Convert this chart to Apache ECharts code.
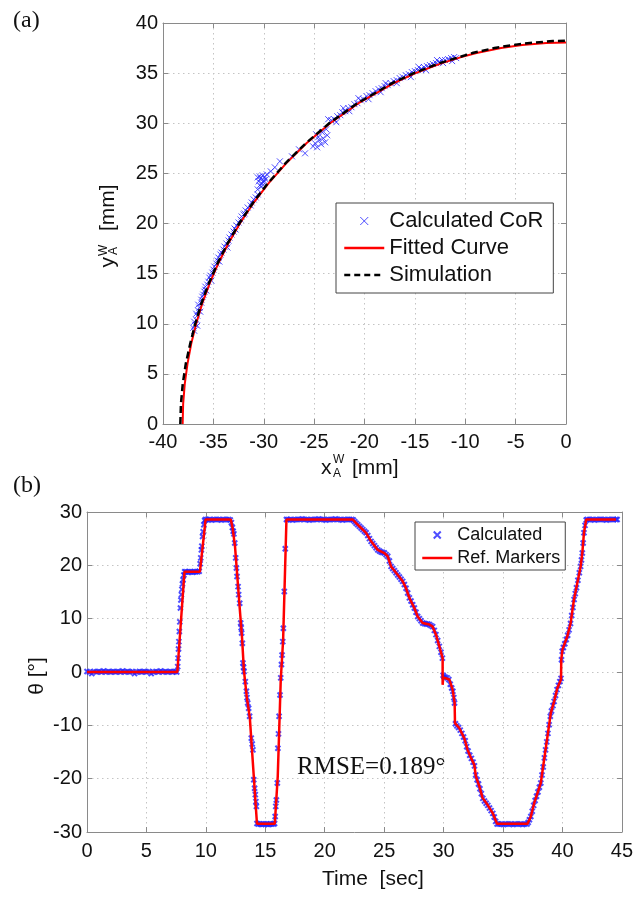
<!DOCTYPE html>
<html>
<head>
<meta charset="utf-8">
<script src="https://cdn.jsdelivr.net/npm/echarts@6/dist/echarts.min.js"></script>
<style>
  html, body { margin: 0; padding: 0; background: #fff; }
  #main { width: 636px; height: 899px; }
</style>
</head>
<body>
<div id="main"></div>
<script>
// (a) centre of rotation, [x, y] in mm
const calculatedCoR = [
    [-36.9, 9.3], [-37.0, 9.6], [-36.8, 9.9], [-36.9, 10.2], [-36.7, 10.4], [-36.6, 10.8], [-36.7, 11.0],
    [-36.5, 11.3], [-36.4, 11.6], [-36.5, 11.9], [-36.2, 12.1], [-36.2, 12.4], [-36.1, 12.7], [-36.0, 12.9],
    [-35.9, 13.2], [-35.8, 13.4], [-35.8, 13.7], [-35.6, 13.9], [-35.5, 14.2], [-35.4, 14.6], [-35.3, 14.8],
    [-35.1, 15.1], [-35.0, 15.4], [-34.9, 15.7], [-34.7, 16.0], [-34.6, 16.3], [-34.5, 16.6], [-34.3, 16.9],
    [-34.2, 17.1], [-34.0, 17.4], [-33.9, 17.7], [-33.7, 18.0], [-33.5, 18.3], [-33.4, 18.6], [-33.2, 18.9],
    [-33.0, 19.2], [-32.9, 19.5], [-32.7, 19.8], [-32.5, 20.1], [-32.3, 20.4], [-32.2, 20.7], [-31.9, 21.0],
    [-31.8, 21.3], [-31.6, 21.6], [-31.3, 21.8], [-31.2, 22.1], [-31.0, 22.4], [-30.8, 22.6], [-30.6, 22.9],
    [-36.6, 9.8], [-36.3, 11.2], [-35.7, 13.3], [-35.2, 14.3], [-34.4, 16.2], [-33.6, 17.6], [-32.8, 19.4],
    [-32.0, 20.9],
    [-30.6, 23.4], [-30.4, 23.8], [-30.2, 24.0], [-30.5, 24.2], [-30.0, 24.3], [-30.3, 24.5], [-29.9, 24.6],
    [-30.1, 24.8], [-29.7, 24.9], [-30.4, 24.7], [-30.0, 24.1], [-29.8, 24.4], [-30.6, 24.6], [-30.2, 23.7],
    [-29.3, 25.2], [-28.9, 25.6], [-28.4, 26.2], [-27.2, 26.7], [-26.5, 27.4],
    [-25.9, 27.0], [-25.1, 27.7], [-24.9, 28.0], [-24.7, 27.6], [-24.5, 28.3], [-24.3, 27.9], [-24.6, 28.6],
    [-24.1, 28.5], [-23.9, 28.1], [-23.7, 28.8], [-24.2, 29.1], [-24.8, 28.9], [-23.8, 29.4],
    [-23.3, 30.3], [-23.0, 30.4], [-22.7, 30.7], [-22.4, 30.8], [-22.2, 31.1], [-21.9, 31.2], [-21.6, 31.5],
    [-21.3, 31.6], [-21.0, 31.9], [-20.7, 32.0], [-20.4, 32.3], [-20.1, 32.4], [-19.8, 32.7], [-19.5, 32.8],
    [-19.2, 33.0], [-18.9, 33.2], [-18.6, 33.4], [-18.3, 33.5], [-18.0, 33.7], [-17.7, 33.8], [-17.4, 34.0],
    [-17.1, 34.2], [-16.8, 34.3], [-16.5, 34.5], [-16.2, 34.6], [-15.9, 34.8], [-15.6, 34.9], [-15.3, 35.1],
    [-15.0, 35.2], [-14.7, 35.3], [-14.4, 35.4], [-14.1, 35.6], [-13.8, 35.7], [-13.5, 35.8], [-13.2, 35.9],
    [-12.9, 36.0], [-12.6, 36.1], [-12.3, 36.3], [-12.0, 36.3], [-11.7, 36.4], [-11.4, 36.5], [-11.1, 36.6],
    [-10.9, 36.5],
    [-22.8, 30.1], [-21.5, 31.2], [-19.6, 32.4], [-18.4, 33.1], [-16.8, 34.0], [-15.4, 34.6], [-13.9, 35.3],
    [-12.2, 36.0], [-11.3, 36.2], [-23.6, 30.4], [-22.1, 31.5], [-20.6, 32.5], [-17.9, 34.0], [-14.6, 35.6],
    [-12.8, 36.3]
];

const fittedCurve = [
    [-38.05, 0], [-38.0, 2], [-37.84, 4], [-37.57, 6], [-37.2, 8], [-36.71, 10], [-36.11, 12], [-35.38, 14],
    [-34.52, 16], [-33.52, 18], [-32.37, 20], [-31.05, 22], [-29.53, 24], [-27.78, 26], [-25.76, 28],
    [-23.41, 30], [-20.59, 32], [-17.08, 34], [-14.93, 35], [-12.32, 36], [-10.4, 36.6], [-8.88, 37],
    [-6.45, 37.5], [-4.35, 37.8], [-1.95, 38], [0, 38.05]
];

const simulation = [
    [-38.28, 0], [-38.22, 2], [-38.04, 4], [-37.74, 6], [-37.3, 8], [-36.8, 10], [-36.2, 12], [-35.47, 14],
    [-34.6, 16], [-33.6, 18], [-32.44, 20], [-31.12, 22], [-29.6, 24], [-27.85, 26], [-25.83, 28],
    [-23.5, 30], [-20.7, 32], [-17.25, 34], [-15.12, 35], [-12.55, 36], [-9.3, 37], [-7.1, 37.5],
    [-5.3, 37.8], [-3.6, 38], [-1.3, 38.2], [0, 38.24]
];

// (b) joint angle, [time s, theta deg]
const calcTheta = [
    [0, 0.1], [0.2, 0], [0.4, -0.3], [0.6, 0.1], [0.8, 0], [1.0, 0.1], [1.2, 0], [1.4, 0.2], [1.6, 0], [1.8, 0.1],
    [2.0, 0], [2.2, 0.1], [2.4, 0], [2.6, 0.1], [2.8, 0], [3.0, 0.2], [3.2, 0], [3.4, 0.1], [3.6, 0], [3.8, 0.1],
    [4.0, -0.3], [4.2, 0], [4.4, 0.1], [4.6, 0], [4.8, 0.1], [5.0, 0], [5.2, 0.1], [5.4, -0.3], [5.6, 0], [5.8, 0.1],
    [6.0, 0], [6.2, 0.2], [6.4, 0], [6.6, 0.1], [6.8, 0], [7.0, 0.1], [7.2, 0], [7.4, 0.1], [7.55, 0],
    [7.63, 1.0], [7.66, 2.6], [7.7, 4.3], [7.73, 5.7], [7.77, 7.6], [7.81, 9.4], [7.86, 12.0], [7.9, 13.5],
    [7.94, 14.5], [7.98, 15.5], [8.03, 16.5], [8.08, 17.3], [8.15, 18.2], [8.22, 18.8],
    [8.32, 18.8], [8.46, 18.7], [8.6, 18.8], [8.74, 18.8], [8.88, 18.7], [9.02, 18.8], [9.16, 18.8], [9.3, 18.8], [9.44, 18.9],
    [9.52, 20.3], [9.57, 21.4], [9.62, 22.9], [9.66, 23.6], [9.72, 25.4], [9.77, 26.3], [9.83, 27.6], [9.9, 28.4], [9.97, 28.6],
    [10.1, 28.6], [10.3, 28.6], [10.5, 28.5], [10.7, 28.6], [10.9, 28.6], [11.1, 28.6], [11.3, 28.5], [11.5, 28.6],
    [11.7, 28.6], [11.9, 28.6], [12.05, 28.5],
    [12.15, 28.0], [12.23, 27.1], [12.3, 26.4], [12.36, 25.9], [12.43, 24.2], [12.51, 21.4], [12.57, 19.5],
    [12.62, 17.9], [12.71, 16.0], [12.76, 14.5], [12.85, 12.9], [12.93, 9.2], [12.97, 8.3], [13.01, 7.3],
    [13.07, 5.4], [13.12, 1.7], [13.17, 0.9], [13.21, 0.1], [13.32, -1.8], [13.41, -3.6], [13.46, -4.8],
    [13.52, -5.8], [13.6, -6.8], [13.68, -8.3], [13.82, -12.4], [13.9, -13.5], [13.96, -14.6], [14.03, -20.2],
    [14.1, -21.8], [14.16, -23.0], [14.21, -24.3], [14.25, -25.2], [14.3, -28.4],
    [14.42, -28.5], [14.56, -28.5], [14.7, -28.6], [14.84, -28.5], [14.98, -28.5], [15.12, -28.5], [15.26, -28.6],
    [15.4, -28.5], [15.54, -28.5], [15.68, -28.5], [15.78, -28.4],
    [15.83, -27.1], [15.88, -25.2], [15.93, -24.0], [16.01, -20.8], [16.06, -14.3], [16.11, -11.6], [16.16, -8.3],
    [16.24, -4.3], [16.3, -1.1], [16.36, 1.4], [16.41, 3.2], [16.47, 5.7], [16.52, 8.2], [16.6, 15.1],
    [16.68, 23.1], [16.78, 28.6],
    [16.9, 28.6], [17.1, 28.6], [17.3, 28.5], [17.5, 28.6], [17.7, 28.6], [17.9, 28.6], [18.1, 28.7], [18.3, 28.6],
    [18.5, 28.6], [18.7, 28.5], [18.9, 28.6], [19.1, 28.6], [19.3, 28.6], [19.5, 28.7], [19.7, 28.6], [19.9, 28.6],
    [20.1, 28.5], [20.3, 28.6], [20.5, 28.6], [20.7, 28.6], [20.9, 28.7], [21.1, 28.6], [21.3, 28.6], [21.5, 28.5],
    [21.7, 28.6], [21.9, 28.6], [22.1, 28.6], [22.28, 28.6],
    [22.4, 28.5], [22.52, 28.2], [22.64, 27.9], [22.78, 27.6], [22.92, 27.3], [23.06, 27.0], [23.2, 26.7],
    [23.34, 26.4], [23.48, 26.1], [23.62, 25.6], [23.76, 25.0], [23.9, 24.5], [24.04, 24.1], [24.18, 23.7],
    [24.32, 23.3], [24.46, 22.9], [24.6, 22.7], [24.74, 22.5], [24.88, 22.4], [25.02, 22.3], [25.16, 22.0],
    [25.3, 21.7], [25.44, 20.8], [25.58, 19.8], [25.72, 19.4], [25.86, 19.0], [26.0, 18.6], [26.14, 18.2],
    [26.28, 17.8], [26.42, 17.4], [26.56, 17.0], [26.7, 16.4], [26.84, 15.7], [26.98, 14.8], [27.12, 13.9],
    [27.26, 13.3], [27.4, 12.6], [27.54, 12.0], [27.68, 11.2], [27.82, 10.4], [27.96, 10.0], [28.1, 9.6],
    [28.24, 9.2], [28.38, 9.1], [28.52, 9.0], [28.66, 9.0], [28.8, 8.9], [28.94, 8.7], [29.08, 8.5],
    [29.22, 7.8], [29.36, 7.0], [29.5, 5.9], [29.64, 4.8], [29.78, 3.7], [29.9, 2.6],
    [29.96, -0.6], [30.04, -0.9], [30.16, -1.0], [30.3, -1.1], [30.44, -1.4], [30.56, -2.3], [30.68, -3.0],
    [30.78, -3.6], [30.86, -4.8], [30.92, -5.8], [31.0, -9.7], [31.12, -10.1], [31.26, -10.4], [31.4, -10.9],
    [31.54, -11.5], [31.68, -12.2], [31.82, -12.9], [31.94, -14.0], [32.06, -14.8], [32.2, -15.6], [32.34, -16.2],
    [32.48, -16.9], [32.6, -17.6], [32.7, -19.3], [32.82, -20.2], [32.94, -21.0], [33.06, -21.9], [33.18, -22.8],
    [33.3, -23.7], [33.44, -24.2], [33.58, -24.6], [33.72, -25.0], [33.86, -25.5], [34.0, -26.0], [34.14, -26.5],
    [34.26, -27.2], [34.38, -28.0], [34.5, -28.5],
    [34.65, -28.5], [34.85, -28.5], [35.05, -28.6], [35.25, -28.5], [35.45, -28.5], [35.65, -28.5], [35.85, -28.6],
    [36.05, -28.5], [36.25, -28.5], [36.45, -28.5], [36.65, -28.6], [36.85, -28.5], [37.02, -28.5],
    [37.12, -28.2], [37.22, -27.7], [37.34, -27.1], [37.46, -26.1], [37.58, -25.0], [37.7, -24.1], [37.82, -23.3],
    [37.94, -22.5], [38.06, -21.6], [38.18, -20.8], [38.28, -19.3], [38.38, -17.8], [38.48, -16.1], [38.58, -14.6],
    [38.68, -13.1], [38.78, -11.5], [38.88, -9.9], [38.98, -8.3], [39.08, -7.3], [39.2, -6.3], [39.3, -5.5],
    [39.42, -4.4], [39.54, -3.3], [39.66, -2.5], [39.78, -1.8], [39.88, -1.2], [39.92, 2.3], [39.98, 3.9],
    [40.08, 4.6], [40.2, 5.3], [40.32, 6.1], [40.44, 6.9], [40.56, 7.9], [40.68, 9.1], [40.78, 10.6], [40.88, 12.1],
    [40.98, 13.6], [41.08, 14.7], [41.18, 15.8], [41.3, 17.2], [41.42, 18.6], [41.53, 19.8], [41.6, 21.0],
    [41.67, 22.3], [41.74, 24.2], [41.81, 26.1], [41.9, 27.5], [42.0, 28.5],
    [42.1, 28.6], [42.3, 28.6], [42.5, 28.6], [42.7, 28.5], [42.9, 28.6], [43.1, 28.6], [43.3, 28.6], [43.5, 28.6],
    [43.7, 28.5], [43.9, 28.6], [44.1, 28.6], [44.3, 28.6], [44.5, 28.6], [44.6, 28.6]
];

const refTheta = [
    [0, 0], [7.6, 0], [8.2, 18.8], [9.5, 18.8], [9.98, 28.6], [12.1, 28.6], [12.25, 27.0], [12.45, 23.6],
    [12.9, 10.5], [13.05, 6.2], [13.2, 0.3], [13.45, -4.8], [13.7, -8.6], [14.3, -28.45], [15.8, -28.45],
    [16.05, -19.5], [16.3, -1.5], [16.5, 6], [16.78, 28.6], [22.36, 28.6], [22.64, 27.9], [23.06, 27.0],
    [23.48, 26.1], [23.9, 24.5], [24.46, 22.9], [25.02, 22.3], [25.3, 21.7], [25.58, 19.8], [26.0, 18.6],
    [26.56, 17.0], [26.84, 15.7], [27.12, 13.9], [27.54, 12.0], [27.82, 10.4], [28.24, 9.2], [28.8, 8.9],
    [29.08, 8.5], [29.36, 7.0], [29.64, 4.8], [29.92, 2.6], [29.92, -2.4], [29.97, -1.0], [30.48, -1.4],
    [30.76, -3.3], [30.93, -5.8], [30.96, -9.6], [31.32, -10.5], [31.74, -12.4], [32.02, -14.6], [32.3, -16.1],
    [32.58, -17.4], [32.72, -19.6], [33.0, -21.4], [33.28, -23.6], [33.7, -24.9], [34.12, -26.4], [34.5, -28.45],
    [37.06, -28.45], [37.34, -27.1], [37.62, -24.6], [37.9, -22.7], [38.18, -20.8], [38.46, -16.4], [38.74, -12.1],
    [39.02, -7.7], [39.3, -5.5], [39.58, -3.0], [39.88, -1.4], [39.9, 2.3], [40.0, 4.2], [40.41, 6.7],
    [40.69, 9.2], [40.97, 13.6], [41.25, 16.7], [41.53, 19.8], [41.67, 22.3], [41.81, 26.1], [42.0, 28.6],
    [44.5, 28.6]
];

const FONT = '"Liberation Sans", Arial, sans-serif';
const SERIF = '"Liberation Serif", "Times New Roman", serif';
const BLUE = '#2222ff';
const RED = '#ff0000';
const CROSS = 'path://M0,0L10,10M10,0L0,10';
const NO_DOT = { color: 'rgba(0,0,0,0)', borderColor: 'rgba(0,0,0,0)', borderWidth: 0 };

const myChart = echarts.init(document.getElementById('main'));

// one side of the boxed frame; the labelled sides also carry the dotted grid
function frameAxis(grid, pos, min, max, interval, labelled, margin) {
    return {
        type: 'value', gridIndex: grid, position: pos,
        min: min, max: max, interval: interval,
        axisLine: { show: true, onZero: false, lineStyle: { color: '#8a8a8a', width: 1 } },
        axisTick: { show: true, inside: true, length: 5, lineStyle: { color: '#8a8a8a' } },
        axisLabel: { show: labelled, color: '#111', fontSize: 20, fontFamily: FONT, margin: margin },
        splitLine: { show: labelled, lineStyle: { color: '#c4c4c4', width: 1, type: [1.5, 3.5] } }
    };
}

function txt(x, y, text, font, align) {
    return {
        type: 'text', x: x, y: y, silent: true,
        style: { text: text, font: font, fill: '#111', align: align || 'left', verticalAlign: 'middle',
                 textAlign: align || 'left', textVerticalAlign: 'middle' }
    };
}

const option = {
    animation: false,
    backgroundColor: '#fff',
    grid: [
        { left: 163, top: 23, width: 403, height: 401 },
        { left: 87, top: 512, width: 536, height: 320 }
    ],
    xAxis: [
        frameAxis(0, 'bottom', -40, 0, 5, true, 8),
        frameAxis(0, 'top', -40, 0, 5, false, 8),
        frameAxis(1, 'bottom', 0, 45, 5, true, 9),
        frameAxis(1, 'top', 0, 45, 5, false, 9)
    ],
    yAxis: [
        frameAxis(0, 'left', 0, 40, 5, true, 5),
        frameAxis(0, 'right', 0, 40, 5, false, 5),
        frameAxis(1, 'left', -30, 30, 10, true, 5),
        frameAxis(1, 'right', -30, 30, 10, false, 5)
    ],
    legend: [
        {
            left: 336, top: 203, orient: 'vertical',
            itemWidth: 40, itemHeight: 8, itemGap: 3,
            padding: [6, 10, 6, 7],
            borderColor: '#444', borderWidth: 1, backgroundColor: '#fff',
            textStyle: { fontSize: 22, fontFamily: FONT, color: '#111', lineHeight: 24 },
            data: [
                { name: 'Calculated CoR', icon: CROSS, itemStyle: { color: BLUE, borderColor: BLUE, borderWidth: 1 } },
                { name: 'Fitted Curve', itemStyle: NO_DOT, lineStyle: { color: RED, width: 2.5, type: 'solid' } },
                { name: 'Simulation', itemStyle: NO_DOT, lineStyle: { color: '#000', width: 2.5, type: [6, 4] } }
            ]
        },
        {
            left: 415, top: 522, orient: 'vertical',
            itemWidth: 30, itemHeight: 7, itemGap: 3,
            padding: [3, 5, 2, 6],
            borderColor: '#444', borderWidth: 1, backgroundColor: '#fff',
            textStyle: { fontSize: 18, fontFamily: FONT, color: '#111', lineHeight: 20 },
            data: [
                { name: 'Calculated', icon: CROSS, itemStyle: { color: BLUE, borderColor: BLUE, borderWidth: 2 } },
                { name: 'Ref. Markers', itemStyle: NO_DOT, lineStyle: { color: RED, width: 2.5, type: 'solid' } }
            ]
        }
    ],
    series: [
        {
            name: 'Calculated CoR', type: 'scatter', xAxisIndex: 0, yAxisIndex: 0,
            symbol: CROSS, symbolSize: 6,
            itemStyle: { color: BLUE, borderColor: BLUE, borderWidth: 1 },
            data: calculatedCoR
        },
        {
            name: 'Fitted Curve', type: 'line', xAxisIndex: 0, yAxisIndex: 0,
            symbol: 'none', lineStyle: { color: RED, width: 2 },
            data: fittedCurve
        },
        {
            name: 'Simulation', type: 'line', xAxisIndex: 0, yAxisIndex: 0,
            symbol: 'none', lineStyle: { color: '#000', width: 2.5, type: [7, 4] },
            data: simulation
        },
        {
            name: 'Calculated', type: 'scatter', xAxisIndex: 2, yAxisIndex: 2,
            symbol: CROSS, symbolSize: 5,
            itemStyle: { color: BLUE, borderColor: BLUE, borderWidth: 2 },
            data: calcTheta
        },
        {
            name: 'Ref. Markers', type: 'line', xAxisIndex: 2, yAxisIndex: 2,
            symbol: 'none', lineStyle: { color: RED, width: 2.5 },
            data: refTheta
        }
    ],
    graphic: [
        txt(13, 21, '(a)', '24px ' + SERIF),
        txt(13, 486, '(b)', '24px ' + SERIF),
        // x_A^W [mm]
        txt(321, 468, 'x', '21px ' + FONT),
        txt(333, 460, 'W', '12px ' + FONT),
        txt(333, 474, 'A', '12px ' + FONT),
        txt(352, 468, '[mm]', '21px ' + FONT),
        // y_A^W [mm], rotated
        {
            type: 'group', x: 108, y: 226, rotation: Math.PI / 2,
            children: [
                txt(-41.5, 0, 'y', '21px ' + FONT),
                txt(-30, -4, 'W', '12px ' + FONT),
                txt(-29, 6, 'A', '12px ' + FONT),
                txt(-5, 0, '[mm]', '21px ' + FONT)
            ]
        },
        {
            type: 'group', x: 37, y: 676, rotation: Math.PI / 2,
            children: [ txt(0, 0, 'θ [°]', '21px ' + FONT, 'center') ]
        },
        txt(322, 879, 'Time  [sec]', '21px ' + FONT),
        txt(297, 767, 'RMSE=0.189°', '25px ' + SERIF)
    ]
};

myChart.setOption(option);
</script>
</body>
</html>
